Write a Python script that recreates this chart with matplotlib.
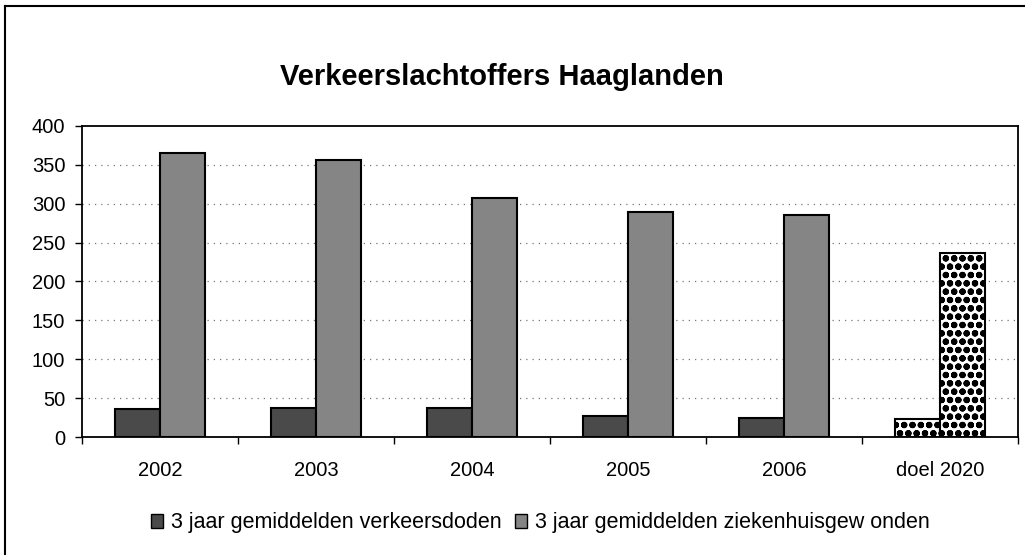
import matplotlib.pyplot as plt
import numpy as np
from matplotlib.lines import Line2D

plt.rcParams["font.family"] = ["Liberation Sans", "DejaVu Sans"]
plt.rcParams["hatch.linewidth"] = 2.2

# dati
jaren = ["2002", "2003", "2004", "2005", "2006", "doel 2020"]
doden = [36, 37, 37, 27, 25, 23]
gewonden = [365, 356, 307, 290, 285, 237]
legenda = ["3 jaar gemiddelden verkeersdoden", "3 jaar gemiddelden ziekenhuisgew onden"]

fig = plt.figure(figsize=(10.25, 5.55), dpi=100)
ax = fig.add_axes([0.08, 0.2126, 0.913, 0.5604])

x = np.arange(len(jaren))
w = 0.29
b1 = ax.bar(x - w / 2, doden, w, color="#4a4a4a", edgecolor="black", linewidth=1.5, zorder=3)
b2 = ax.bar(x + w / 2, gewonden, w, color="#858585", edgecolor="black", linewidth=1.5, zorder=3)

# doel 2020 met stippenpatroon
for p in (b1[-1], b2[-1]):
    p.set_facecolor("white")
    p.set_hatch("oo")

ax.set_xlim(-0.5, len(jaren) - 0.5)
ax.set_ylim(0, 400)
ax.set_yticks(range(0, 401, 50))
ax.set_xticks(np.arange(len(jaren) + 1) - 0.5, minor=False)
ax.set_xticklabels([])
ax.set_xticks(x, minor=True)
ax.set_xticklabels(jaren, minor=True)
ax.tick_params(axis="x", which="major", length=5, direction="out", width=1)
ax.tick_params(axis="x", which="minor", length=0, pad=17, labelsize=14.5)
ax.tick_params(axis="y", length=5, width=1, pad=7, labelsize=14.5)

for v in range(50, 400, 50):
    ax.axhline(v, color="#777777", linewidth=0.9, linestyle=(0, (1, 4)), zorder=1)

for s in ax.spines.values():
    s.set_linewidth(1.3)

fig.text(0.49, 0.862, "Verkeerslachtoffers Haaglanden", ha="center", va="center",
         fontsize=21, fontweight="bold")

leg = fig.legend([b1[0], b2[0]], legenda, loc="center", bbox_to_anchor=(0.527, 0.058),
                 ncol=2, frameon=False, fontsize=15.5, handlelength=0.6, handleheight=0.6,
                 handletextpad=0.35, columnspacing=0.6)
for h in leg.legend_handles:
    h.set_linewidth(1)

# cornice del grafico
fig.add_artist(Line2D([5 / 1025, 1], [1 - 6 / 555, 1 - 6 / 555], color="black", linewidth=1.5))
fig.add_artist(Line2D([5 / 1025, 5 / 1025], [0, 1 - 6 / 555], color="black", linewidth=1.5))

fig.savefig("out.png", dpi=100)
